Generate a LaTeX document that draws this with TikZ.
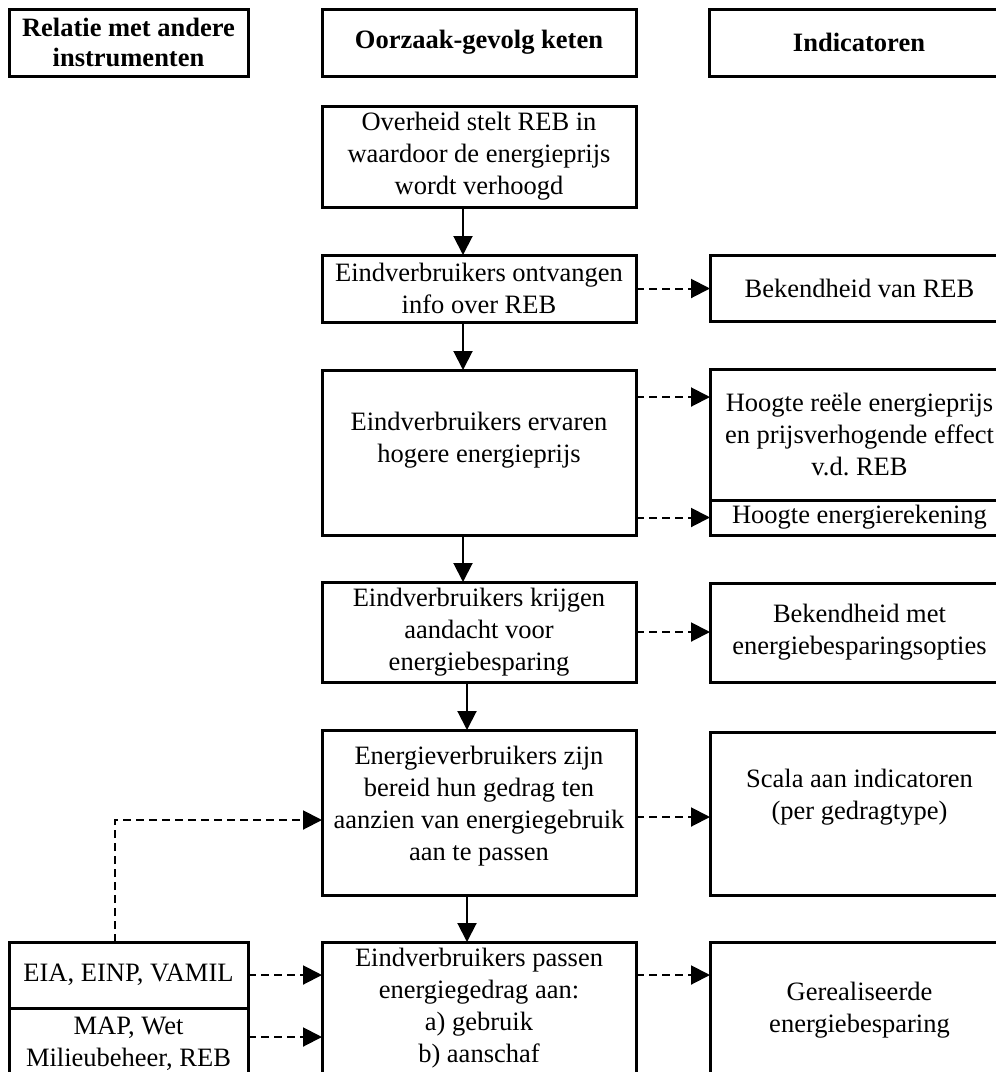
\documentclass[tikz,border=0pt]{standalone}
\usepackage{fontspec}
\setmainfont{Liberation Serif}
\frenchspacing
\usetikzlibrary{arrows.meta,calc}
\tikzset{
  box/.style={draw, line width=3pt, rectangle, inner sep=0pt, outer sep=0pt,
    anchor=north west, align=center, font=\fontsize{26.5}{32}\selectfont},
  hdr/.style={box, font=\fontsize{26.5}{30}\selectfont\bfseries},
  txt/.style={inner sep=0pt, outer sep=0pt, align=center, font=\fontsize{26.5}{32}\selectfont},
  flow/.style={line width=2pt, -{Triangle[length=19pt,width=19pt]}},
  link/.style={line width=2pt, dash pattern=on 8pt off 5pt, -{Triangle[length=19pt,width=19pt]}},
}
\begin{document}
\begin{tikzpicture}[x=1pt,y=-1pt]
\useasboundingbox (0,0) rectangle (996,1072);
\clip (0,0) rectangle (996,1072);
\fill[white] (0,0) rectangle (996,1072);

% column headers
\node[hdr, minimum width=239pt, minimum height=67pt] (hL) at (9,9) {Relatie met andere\\instrumenten};
\node[hdr, minimum width=314pt, minimum height=67pt] (hM) at (322,9) {Oorzaak-gevolg keten};
\node[hdr, minimum width=300pt, minimum height=67pt] (hR) at (709,9) {Indicatoren};

% cause-effect chain
\node[box, minimum width=314pt, minimum height=101pt] (b1) at (322,106)
  {Overheid stelt REB in\\waardoor de energieprijs\\wordt verhoogd};
\node[box, minimum width=314pt, minimum height=67pt] (b2) at (322,255)
  {Eindverbruikers ontvangen\\info over REB};
\node[box, minimum width=314pt, minimum height=165pt] (b3) at (322,370) {};
\node[txt, yshift=12pt] (t3) at (b3.center) {Eindverbruikers ervaren\\hogere energieprijs};
\node[box, minimum width=314pt, minimum height=100pt] (b4) at (322,582)
  {Eindverbruikers krijgen\\aandacht voor\\energiebesparing};
\node[box, minimum width=314pt, minimum height=165pt] (b5) at (322,730) {};
\node[txt, yshift=6pt] (t5) at (b5.center)
  {Energieverbruikers zijn\\bereid hun gedrag ten\\aanzien van energiegebruik\\aan te passen};
\node[box, minimum width=314pt, minimum height=200pt] (b6) at (322,942) {};
\node[txt, yshift=-66pt] (t6) at (b6.north)
  {Eindverbruikers passen\\energiegedrag aan:\\a) gebruik\\b) aanschaf};

% indicators
\node[box, minimum width=299pt, minimum height=66pt] (r2) at (710,255) {Bekendheid van REB};
\node[box, minimum width=299pt, minimum height=131pt] (r3a) at (710,369)
  {Hoogte reële energieprijs\\en prijsverhogende effect\\v.d. REB};
\node[box, minimum width=299pt, minimum height=35pt] (r3b) at (710,500) {Hoogte energierekening};
\node[box, minimum width=299pt, minimum height=99pt] (r4) at (710,583)
  {Bekendheid met\\energiebesparingsopties};
\node[box, minimum width=299pt, minimum height=163pt] (r5) at (710,732) {};
\node[txt, yshift=16pt] (t5r) at (r5.center) {Scala aan indicatoren\\(per gedragtype)};
\node[box, minimum width=299pt, minimum height=200pt] (r6) at (710,942) {};
\node[txt, yshift=-68pt] (t6r) at (r6.north) {Gerealiseerde\\energiebesparing};

% other instruments
\node[box, minimum width=239pt, minimum height=66pt] (l6a) at (9,942) {EIA, EINP, VAMIL};
\node[box, minimum width=239pt, minimum height=150pt] (l6b) at (9,1008) {};
\node[txt, yshift=-36pt] (t6l) at (l6b.north) {MAP, Wet\\Milieubeheer, REB};

% chain arrows
\draw[flow] (b1.south -| 463,0) -- (b2.north -| 463,0);
\draw[flow] (b2.south -| 463,0) -- (b3.north -| 463,0);
\draw[flow] (b3.south -| 463,0) -- (b4.north -| 463,0);
\draw[flow] (b4.south -| 467,0) -- (b5.north -| 467,0);
\draw[flow] (b5.south -| 467,0) -- (b6.north -| 467,0);

% links to indicators
\draw[link] (b2.east) -- (b2.east -| r2.west);
\draw[link] (b3.east |- 0,397) -- (r3a.west |- 0,397);
\draw[link] (b3.east |- r3b.west) -- (r3b.west);
\draw[link] (b4.east) -- (b4.east -| r4.west);
\draw[link] (b5.east |- 0,817) -- (r5.west |- 0,817);
\draw[link] (b6.east |- l6a.east) -- (r6.west |- l6a.east);

% links from other instruments
\draw[link] (l6a.east) -- (l6a.east -| b6.west);
\draw[link] (l6b.east |- 0,1037) -- (b6.west |- 0,1037);
\draw[link] (l6a.north -| 115,0) |- (b5.west |- 0,820);
\end{tikzpicture}
\end{document}
